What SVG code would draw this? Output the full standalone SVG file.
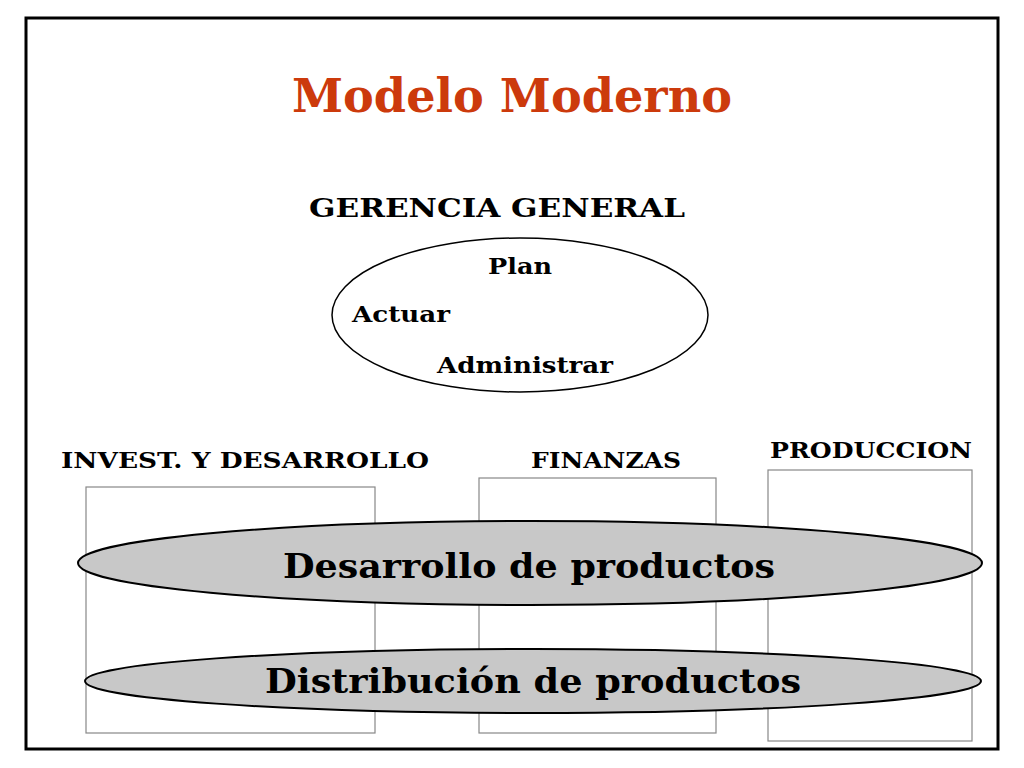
<svg xmlns="http://www.w3.org/2000/svg" width="1024" height="768" viewBox="0 0 1024 768">
<style>
text{font-family:"DejaVu Serif","Liberation Serif",serif;font-weight:bold;fill:#000}
.col{fill:#fff;stroke:#888;stroke-width:1.2}
.band{fill:#c8c8c8;stroke:#000;stroke-width:2}
</style>
<rect x="0" y="0" width="1024" height="768" fill="#fff"/>
<rect x="26" y="18" width="972" height="731" fill="none" stroke="#000" stroke-width="3"/>
<text x="512" y="112" font-size="46" text-anchor="middle" style="fill:#cc3a0c" textLength="440" lengthAdjust="spacingAndGlyphs">Modelo Moderno</text>
<g id="gerencia">
<text x="497" y="217" font-size="26" text-anchor="middle" textLength="376" lengthAdjust="spacingAndGlyphs">GERENCIA GENERAL</text>
<ellipse cx="520" cy="315" rx="188" ry="77" fill="#fff" stroke="#000" stroke-width="1.5"/>
<text x="488" y="274" font-size="22" textLength="64" lengthAdjust="spacingAndGlyphs">Plan</text>
<text x="352" y="322" font-size="22" textLength="98" lengthAdjust="spacingAndGlyphs">Actuar</text>
<text x="437" y="373" font-size="22" textLength="176" lengthAdjust="spacingAndGlyphs">Administrar</text>
</g>
<g id="invest">
<text x="245" y="468" font-size="22" text-anchor="middle" textLength="368" lengthAdjust="spacingAndGlyphs">INVEST. Y DESARROLLO</text>
<rect class="col" x="86" y="487" width="289" height="246"/>
</g>
<g id="finanzas">
<text x="606" y="468" font-size="22" text-anchor="middle" textLength="150" lengthAdjust="spacingAndGlyphs">FINANZAS</text>
<rect class="col" x="479" y="478" width="237" height="255"/>
</g>
<g id="produccion">
<text x="871" y="458" font-size="22" text-anchor="middle" textLength="202" lengthAdjust="spacingAndGlyphs">PRODUCCION</text>
<rect class="col" x="768" y="470" width="204" height="271"/>
</g>
<g id="desarrollo">
<ellipse class="band" cx="530" cy="563" rx="452" ry="42"/>
<text x="529" y="578" font-size="34" text-anchor="middle" textLength="492" lengthAdjust="spacingAndGlyphs">Desarrollo de productos</text>
</g>
<g id="distribucion">
<ellipse class="band" cx="533" cy="681" rx="448" ry="32"/>
<text x="533" y="693" font-size="34" text-anchor="middle" textLength="536" lengthAdjust="spacingAndGlyphs">Distribución de productos</text>
</g>
<g id="connectors"/>
</svg>
